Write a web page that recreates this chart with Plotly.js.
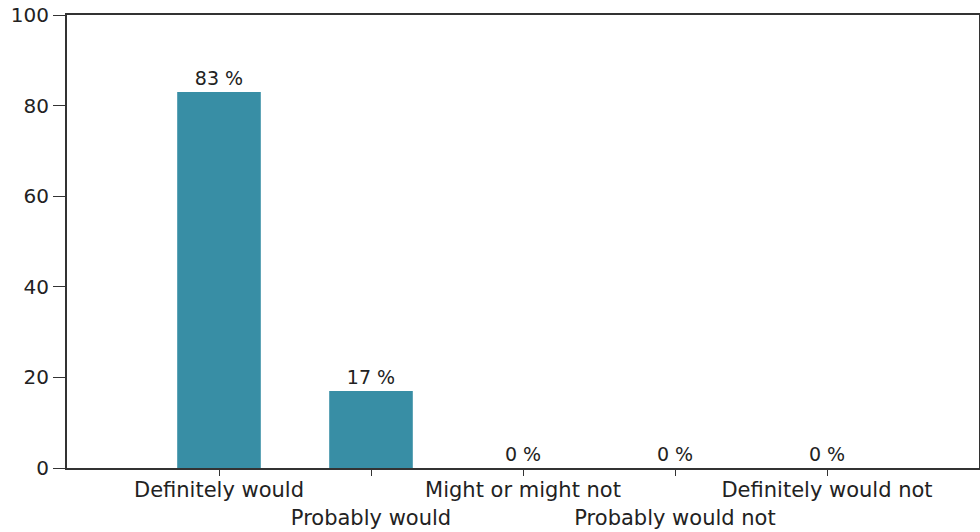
<!DOCTYPE html>
<html>
<head>
<meta charset="utf-8">
<script src="https://cdn.plot.ly/plotly-3.0.1.min.js"></script>
<style>html,body{margin:0;padding:0;background:#fff;}#chart{width:980px;height:532px;}</style>
</head>
<body>
<div id="chart"></div>
<script>
var categories = ["Definitely would", "Probably would", "Might or might not", "Probably would not", "Definitely would not"];
var percents = [83, 17, 0, 0, 0];
var yTicks = [0, 20, 40, 60, 80, 100];

var positions = categories.map(function (c, i) { return i; });
var tickText = categories.map(function (c, i) { return i % 2 === 1 ? "<br>" + c : c; });
var labels = percents.map(function (v) { return v + " %"; });

var trace = {
  type: "bar",
  x: positions,
  y: percents,
  width: 0.55,
  text: labels,
  textposition: "outside",
  cliponaxis: false,
  textfont: {family: "DejaVu Sans, Verdana, sans-serif", size: 19, color: "#222"},
  marker: {color: "#388ea5", line: {width: 0}},
  hoverinfo: "none"
};

var layout = {
  width: 980,
  height: 532,
  margin: {l: 67, r: 1, t: 15, b: 64},
  paper_bgcolor: "#fff",
  plot_bgcolor: "#fff",
  showlegend: false,
  font: {family: "DejaVu Sans, Verdana, sans-serif", size: 18, color: "#222"},
  xaxis: {
    range: [-1, 5],
    tickmode: "array",
    tickvals: positions,
    ticktext: tickText,
    tickangle: 0,
    ticks: "outside",
    ticklen: 6,
    tickwidth: 1,
    tickcolor: "#333",
    ticklabelstandoff: -4,
    showgrid: false,
    zeroline: false,
    showline: true,
    linecolor: "#333",
    linewidth: 2,
    mirror: true,
    tickfont: {size: 21, color: "#222"}
  },
  yaxis: {
    range: [0, 100],
    tickmode: "array",
    tickvals: yTicks,
    ticks: "outside",
    ticklen: 12,
    tickwidth: 1,
    tickcolor: "#333",
    showgrid: false,
    zeroline: false,
    showline: true,
    linecolor: "#333",
    linewidth: 2,
    mirror: true,
    tickfont: {size: 20, color: "#222"}
  }
};

Plotly.newPlot("chart", [trace], layout, {displayModeBar: false, staticPlot: true});
</script>
</body>
</html>
